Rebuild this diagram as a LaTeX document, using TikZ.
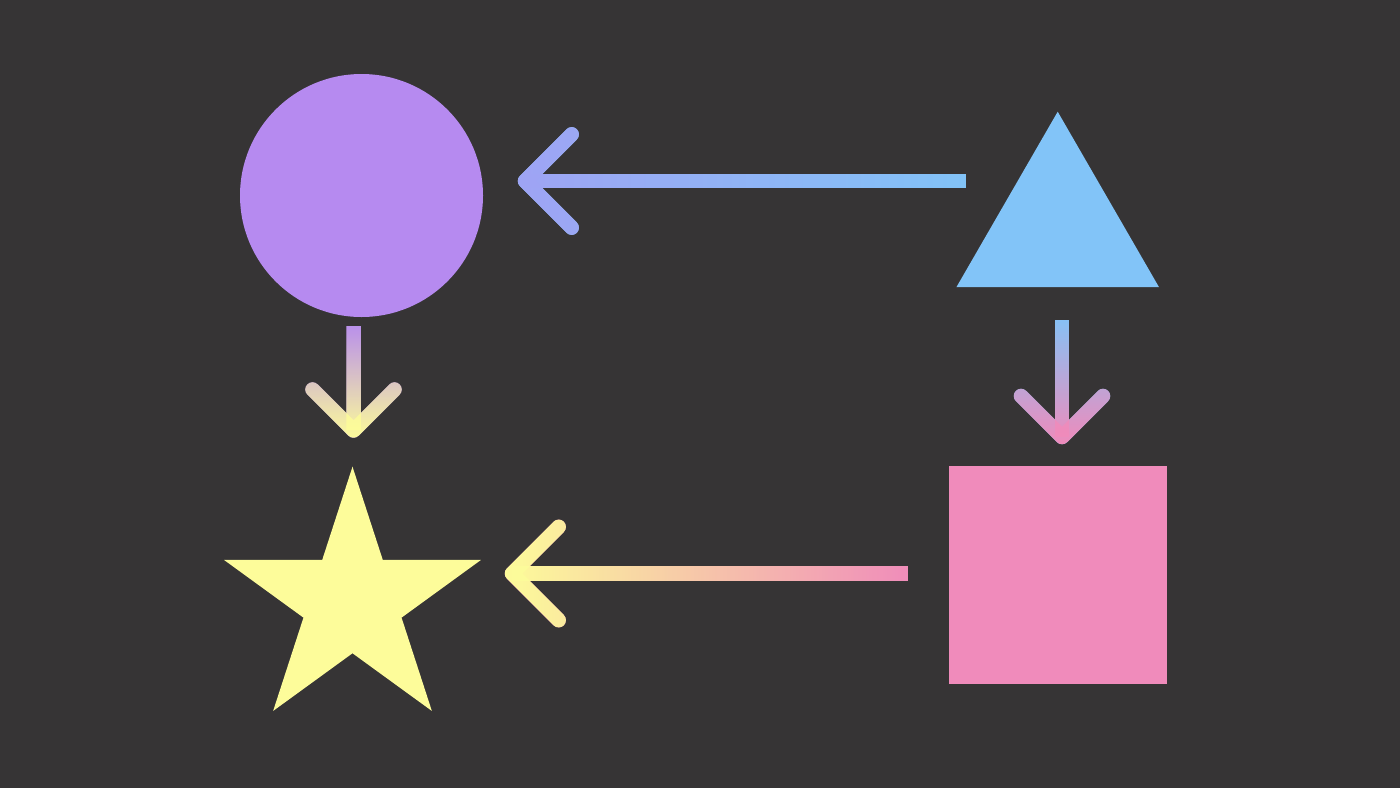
\documentclass[tikz,border=0pt]{standalone}
\usetikzlibrary{shapes.geometric,calc,fadings}

\definecolor{bgdark}{HTML}{363435}
\definecolor{lilac}{HTML}{B68AF0}
\definecolor{sky}{HTML}{82C4F8}
\definecolor{rose}{HTML}{F08BBB}
\definecolor{lemon}{HTML}{FDFC9A}

\tikzfading[name=fadewest,left color=transparent!0,right color=transparent!100]
\tikzfading[name=fadesouth,bottom color=transparent!0,top color=transparent!100]

% tail, tip, arm length, colour at tail, colour at tip, fading
\newcommand{\gradarrow}[6]{%
  \coordinate (ga) at ($(#2)!#3!45:(#1)$);
  \coordinate (gb) at ($(#2)!#3!-45:(#1)$);
  \draw[shaft,#4] (ga) (gb) (#2) -- (#1);
  \draw[head,#4] (#1) (ga) -- (#2) -- (gb);
  \draw[shaft,#5,path fading=#6] (ga) (gb) (#2) -- (#1);
  \draw[head,#5,path fading=#6] (#1) (ga) -- (#2) -- (gb);
}

\begin{document}
\begin{tikzpicture}[shaft/.style={line width=1.45mm,line cap=butt},head/.style={line width=1.45mm,line cap=round,line join=round},blob/.style={inner sep=0pt,outer sep=0pt}]
  \fill[bgdark] (0,0) rectangle (14,-7.88);
  \node[blob,circle,fill=lilac,minimum size=2.43cm] (c) at (3.615,-1.955) {};
  \node[blob,regular polygon,regular polygon sides=3,fill=sky,minimum size=2.34cm] (t) at (10.577,-2.287) {};
  \node[blob,rectangle,fill=rose,minimum size=2.18cm] (q) at (10.58,-5.745) {};
  \node[blob,star,star points=5,star point ratio=2.618,fill=lemon,minimum size=2.7cm] (s) at (3.525,-6.017) {};
  \coordinate (e1) at ($(t.center)+(-0.917,0.477)$);
  \coordinate (h1) at ($(c.east)+(0.42,0.145)$);
  \coordinate (e2) at ($(c.south)+(-0.08,-0.09)$);
  \coordinate (h2) at ($(s.north)+(0.01,0.362)$);
  \coordinate (e3) at ($(t.center)+(0.043,-0.913)$);
  \coordinate (h3) at ($(q.north)+(0.04,0.285)$);
  \coordinate (e4) at ($(q.west)+(-0.41,0.01)$);
  \coordinate (h4) at ($(s.center)+(1.595,0.282)$);
  \gradarrow{e1}{h1}{0.66cm}{sky}{lilac!55!sky}{fadewest}
  \gradarrow{e2}{h2}{0.58cm}{lilac}{lemon}{fadesouth}
  \gradarrow{e3}{h3}{0.58cm}{sky}{rose}{fadesouth}
  \gradarrow{e4}{h4}{0.66cm}{rose}{lemon}{fadewest}
\end{tikzpicture}
\end{document}
